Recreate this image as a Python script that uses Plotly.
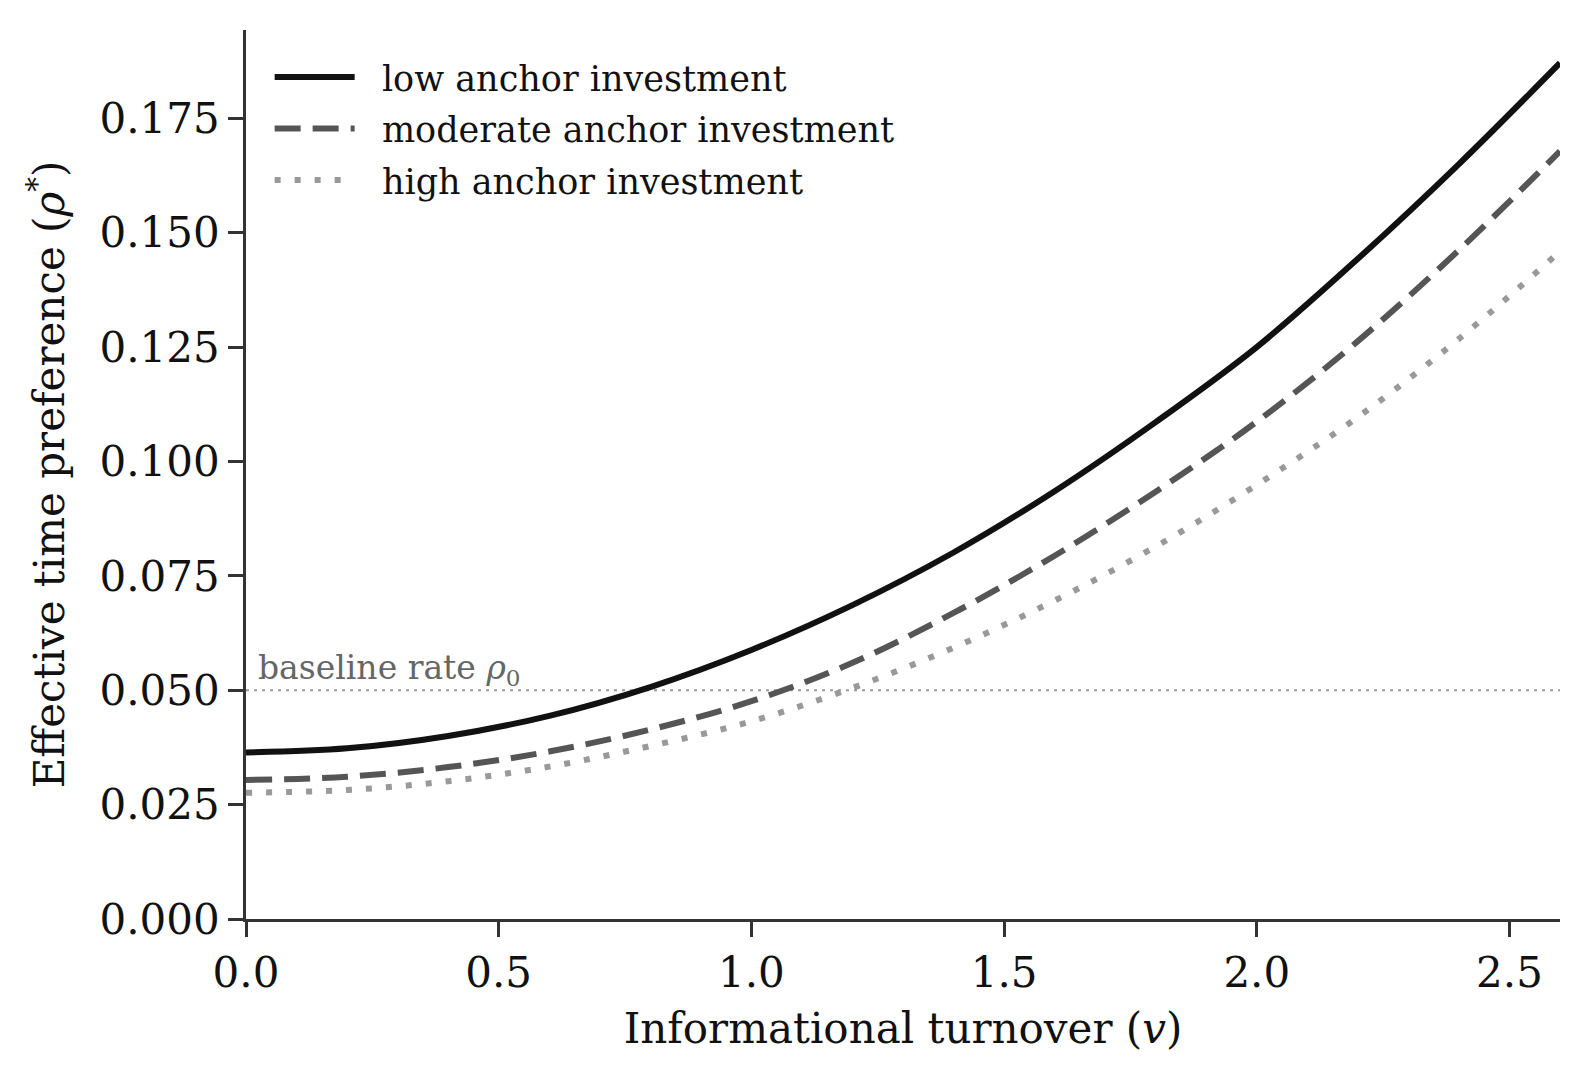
import plotly.graph_objects as go

# Data
v = [0.0, 0.2, 0.4, 0.6, 0.8, 1.0, 1.2, 1.4, 1.6, 1.8, 2.0, 2.2, 2.4, 2.6]
low_anchor = [0.0364, 0.0373, 0.0400, 0.0444, 0.0507, 0.0588, 0.0686, 0.0801,
              0.0935, 0.1086, 0.1250, 0.1443, 0.1650, 0.1871]
moderate_anchor = [0.0304, 0.0311, 0.0332, 0.0366, 0.0414, 0.0476, 0.0560, 0.0669,
                   0.0794, 0.0934, 0.1087, 0.1263, 0.1462, 0.1678]
high_anchor = [0.0276, 0.0282, 0.0301, 0.0333, 0.0378, 0.0432, 0.0505, 0.0593,
               0.0696, 0.0814, 0.0949, 0.1097, 0.1268, 0.1459]
series_names = ["low anchor investment", "moderate anchor investment", "high anchor investment"]
baseline_rate = 0.05
x_ticks = [0.0, 0.5, 1.0, 1.5, 2.0, 2.5]
y_ticks = [0.000, 0.025, 0.050, 0.075, 0.100, 0.125, 0.150, 0.175]

FONT = "DejaVu Serif"

fig = go.Figure()

# baseline
fig.add_trace(go.Scatter(
    x=[0, 2.6], y=[baseline_rate, baseline_rate], mode="lines",
    line=dict(color="#999999", width=2, dash="3px,5px"),
    showlegend=False, hoverinfo="skip"))

styles = [
    dict(color="#111111", width=6, dash="solid"),
    dict(color="#555555", width=6, dash="26px,12px"),
    dict(color="#999999", width=6, dash="6px,14px"),
]
for i, (name, ys, st) in enumerate(zip(series_names, [low_anchor, moderate_anchor, high_anchor], styles)):
    fig.add_trace(go.Scatter(x=v, y=ys, mode="lines", name="\u00a0\u00a0" + name,
                             legendgroup=f"g{i}",
                             line=dict(shape="spline", smoothing=1.0, **st)))

fig.add_annotation(x=0.02, y=baseline_rate, xref="x", yref="y",
                   text="baseline rate <i>ρ</i><sub>0</sub>", showarrow=False,
                   xanchor="left", yanchor="bottom", yshift=-3,
                   font=dict(family=FONT, size=33, color="#666666"))

axis_common = dict(
    showline=True, linecolor="#333333", linewidth=2.7,
    ticks="outside", ticklen=15, tickwidth=2.7, tickcolor="#333333",
    showgrid=False, zeroline=False, mirror=False,
    tickfont=dict(family=FONT, size=42, color="#111111"),
)

fig.update_xaxes(range=[0, 2.6], tickvals=x_ticks, tickformat=".1f",
                 title=dict(text="Informational turnover (<i>v</i>)",
                            font=dict(family=FONT, size=42, color="#111111"), standoff=18),
                 **axis_common)
fig.update_yaxes(range=[0, 0.1943], tickvals=y_ticks, tickformat=".3f",
                 title=dict(text="Effective time preference (<i>ρ</i><sup>*</sup>)",
                            font=dict(family=FONT, size=42, color="#111111"), standoff=22),
                 **axis_common)

fig.update_layout(
    width=1590, height=1080,
    margin=dict(l=246, r=30, t=30, b=161, autoexpand=False),
    plot_bgcolor="white", paper_bgcolor="white",
    font=dict(family=FONT),
    legend=dict(x=0.018, y=0.98, xanchor="left", yanchor="top",
                font=dict(family=FONT, size=35, color="#111111"),
                bgcolor="rgba(0,0,0,0)", itemwidth=80, tracegroupgap=3),
)

fig.write_html("out.html")
